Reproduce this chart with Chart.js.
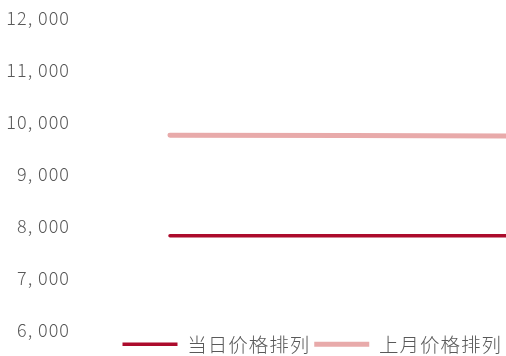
<!DOCTYPE html>
<html>
<head>
<meta charset="utf-8">
<script src="https://cdn.jsdelivr.net/npm/chart.js@4"></script>
<style>
    html, body { margin: 0; padding: 0; background: #fff; overflow: hidden; }
    #wrap { width: 506px; height: 356px; position: relative; }
</style>
</head>
<body>
<div id="wrap"><canvas id="priceChart"></canvas></div>
<script>
    // Series data
    const positions = [0, 1, 2];
    const todayPrices = [7820, 7820, 7818];
    const lastMonthPrices = [9747, 9742, 9735];
    const seriesNames = ['当日价格排列', '上月价格排列'];
    const yTicks = [6000, 7000, 8000, 9000, 10000, 11000, 12000];

    const FONT = "'Noto Sans CJK SC', 'Noto Sans', sans-serif";

    function toPoints(values) {
        return values.map((v, i) => ({ x: positions[i], y: v }));
    }

    // Slightly wider letter spacing for all canvas text (measured and drawn)
    const spacedText = {
        id: 'spacedText',
        beforeLayout(chart) { chart.ctx.letterSpacing = '1px'; },
        beforeDraw(chart) { chart.ctx.letterSpacing = '1px'; }
    };

    new Chart(document.getElementById('priceChart'), {
        type: 'line',
        data: {
            datasets: [{
                label: seriesNames[0],
                data: toPoints(todayPrices),
                borderColor: '#AC0B2C',
                backgroundColor: '#AC0B2C',
                borderWidth: 3.5,
                borderCapStyle: 'round',
                pointRadius: 0,
                tension: 0
            }, {
                label: seriesNames[1],
                data: toPoints(lastMonthPrices),
                borderColor: '#E8AAAA',
                backgroundColor: '#E8AAAA',
                borderWidth: 5,
                borderCapStyle: 'round',
                pointRadius: 0,
                tension: 0
            }]
        },
        plugins: [spacedText],
        options: {
            responsive: true,
            maintainAspectRatio: false,
            animation: false,
            layout: { padding: { top: 18, right: 0, bottom: -8, left: 0 } },
            plugins: {
                tooltip: { enabled: false },
                legend: {
                    position: 'bottom',
                    align: 'end',
                    labels: {
                        usePointStyle: true,
                        pointStyle: 'line',
                        pointStyleWidth: 55,
                        boxHeight: 5,
                        padding: 4,
                        color: '#595959',
                        font: { size: 19.5, family: FONT, weight: '300' }
                    }
                }
            },
            scales: {
                x: {
                    type: 'linear',
                    min: -0.5,
                    max: 1.867,
                    display: false
                },
                y: {
                    min: yTicks[0],
                    max: yTicks[yTicks.length - 1],
                    afterFit: function(scale) { scale.width = 80; },
                    afterBuildTicks: function(scale) {
                        scale.ticks = yTicks.map(v => ({ value: v }));
                    },
                    border: { display: false },
                    grid: { display: false },
                    ticks: {
                        padding: 2,
                        color: '#595959',
                        font: { size: 18, family: FONT, weight: '300' },
                        callback: v => v.toLocaleString('en-US').replace(',', ', ')
                    }
                }
            }
        }
    });
</script>
</body>
</html>
